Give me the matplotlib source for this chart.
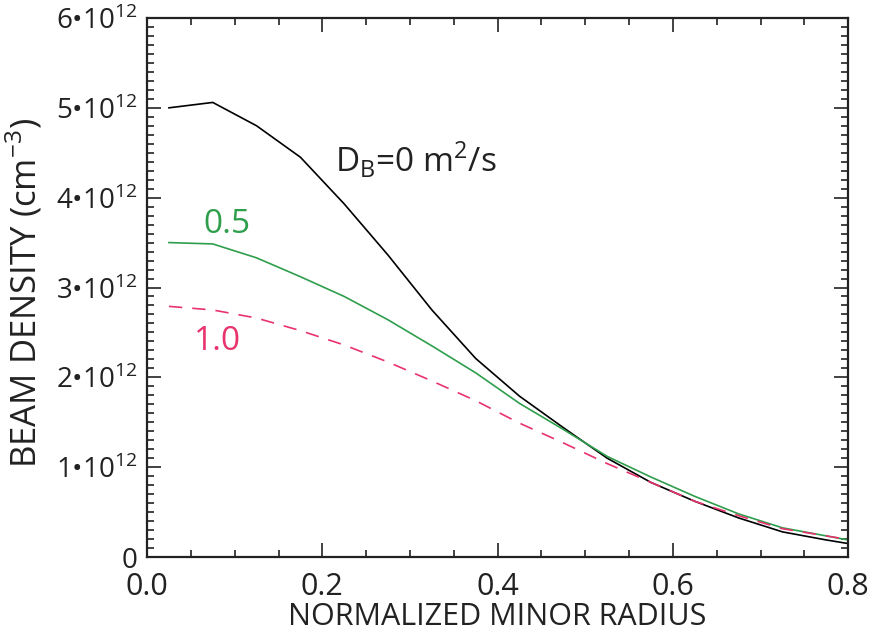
import numpy as np
import matplotlib
matplotlib.use("Agg")
import matplotlib.pyplot as plt
from matplotlib.ticker import MultipleLocator, FixedLocator, FixedFormatter

# ---------------------------------------------------------
# DATA
# ---------------------------------------------------------
radius = [0.025, 0.075, 0.125, 0.175, 0.225, 0.275, 0.325, 0.375, 0.425,
          0.475, 0.525, 0.575, 0.625, 0.675, 0.725, 0.775, 0.8]

# beam density in units of 1e12 cm^-3
dens_d0 = [5.00, 5.06, 4.80, 4.45, 3.93, 3.36, 2.75, 2.21, 1.79,
           1.44, 1.10, 0.83, 0.62, 0.435, 0.28, 0.19, 0.15]
dens_d05 = [3.50, 3.485, 3.33, 3.12, 2.90, 2.64, 2.35, 2.05, 1.71,
            1.42, 1.12, 0.89, 0.675, 0.48, 0.325, 0.235, 0.19]
dens_d10 = [2.79, 2.75, 2.66, 2.52, 2.36, 2.17, 1.96, 1.74, 1.49,
            1.27, 1.04, 0.83, 0.62, 0.46, 0.315, 0.235, 0.195]

ytick_vals = [0, 1, 2, 3, 4, 5, 6]
ytick_labels = ["0"] + [f"{v}•10$^{{\\mathregular{{12}}}}$" for v in ytick_vals[1:]]
xtick_vals = [0.0, 0.2, 0.4, 0.6, 0.8]
xtick_labels = ["0.0", "0.2", "0.4", "0.6", "0.8"]

GREEN = "#2f9e4c"
PINK = "#e8336d"
INK = "#222222"

# ---------------------------------------------------------
# PLOT
# ---------------------------------------------------------
plt.rcParams["font.family"] = ["Open Sans", "DejaVu Sans"]
plt.rcParams["mathtext.fontset"] = "custom"
plt.rcParams["mathtext.rm"] = "Open Sans"

fig = plt.figure(figsize=(8.7, 6.33), dpi=100)
ax = fig.add_axes([0.169, 0.120, 0.806, 0.8516])

scale = 1e12
ax.plot(radius, np.array(dens_d0) * scale, color="black", lw=1.2)
ax.plot(radius, np.array(dens_d05) * scale, color=GREEN, lw=1.2)
ax.plot(radius, np.array(dens_d10) * scale, color=PINK, lw=1.2,
        dashes=(8, 6))

ax.set_xlim(0, 0.8)
ax.set_ylim(0, 6e12)

ax.xaxis.set_major_locator(FixedLocator(xtick_vals))
ax.xaxis.set_major_formatter(FixedFormatter(xtick_labels))
ax.xaxis.set_minor_locator(MultipleLocator(0.05))
ax.yaxis.set_major_locator(FixedLocator([v * scale for v in ytick_vals]))
ax.yaxis.set_major_formatter(FixedFormatter(ytick_labels))
ax.yaxis.set_minor_locator(MultipleLocator(0.1 * scale))

ax.tick_params(which="both", direction="in", top=True, right=True,
               width=1.2, colors=INK)
ax.tick_params(which="major", length=10)
ax.tick_params(which="minor", length=5)
ax.tick_params(axis="y", which="major", labelsize=20, pad=7)
ax.tick_params(axis="x", which="major", labelsize=22, pad=11)
for sp in ax.spines.values():
    sp.set_linewidth(1.6)
    sp.set_color(INK)

ax.set_xlabel("NORMALIZED MINOR RADIUS", fontsize=22, color=INK,
              labelpad=0)
ax.set_ylabel("BEAM DENSITY (cm$^{\\mathregular{-3}}$)", fontsize=25,
              color=INK)
ax.yaxis.set_label_coords(-0.146, 0.49)

ax.text(0.2146, 4.28 * scale,
        "D$_{\\mathregular{B}}$=0 m$^{\\mathregular{2}}$/s",
        fontsize=24, color=INK, va="baseline", ha="left")
ax.text(0.091, 3.61 * scale, "0.5", fontsize=24, color=GREEN,
        va="baseline", ha="center")
ax.text(0.080, 2.305 * scale, "1.0", fontsize=24, color=PINK,
        va="baseline", ha="center")

fig.savefig("out.png", dpi=100, facecolor="white")
